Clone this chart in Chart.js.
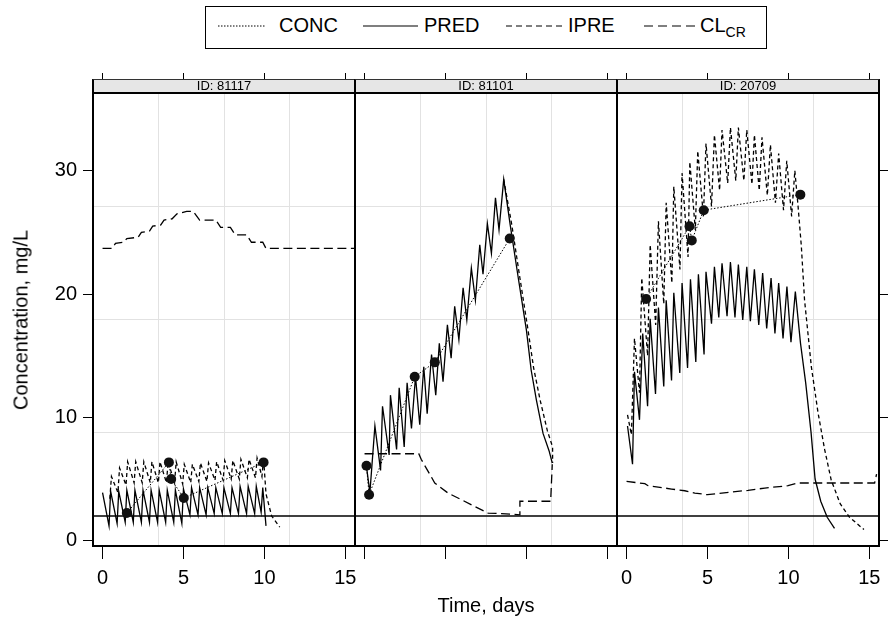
<!DOCTYPE html>
<html>
<head>
<meta charset="utf-8">
<script src="https://cdn.jsdelivr.net/npm/chart.js@4.4.0/dist/chart.umd.min.js"></script>
<style>
  html, body { margin:0; padding:0; background:#fff; }
  #wrap { position:relative; width:892px; height:621px; overflow:hidden;
          font-family:'Liberation Sans', Arial, sans-serif; color:#000; }
  #wrap canvas { position:absolute; left:0; top:0; }
  .strip { position:absolute; top:79px; height:13px; box-sizing:border-box; background:#e6e6e6;
           border-top:1px solid #333; border-left:2px solid #000; border-right:2px solid #000;
           font-size:13px; line-height:12px; text-align:center; z-index:5; white-space:nowrap; }
  #legend { position:absolute; left:205px; top:6px; width:562px; height:43px; box-sizing:border-box;
            border:1.5px solid #000; z-index:5; background:#fff; }
  #legend svg { position:absolute; left:0; top:0; }
  .lt { position:absolute; top:6px; font-size:20px; line-height:24px; white-space:nowrap; }
  .lt sub { font-size:14px; vertical-align:-5px; line-height:0; }
  #xtitle { position:absolute; left:486px; top:605px; transform:translate(-50%,-50%);
            font-size:20px; white-space:nowrap; }
  #ytitle { position:absolute; left:21px; top:320px; transform:translate(-50%,-50%) rotate(-90deg);
            font-size:20px; white-space:nowrap; }
</style>
</head>
<body>
<div id="wrap">
  <canvas id="p0" width="892" height="621"></canvas>
  <canvas id="p1" width="892" height="621"></canvas>
  <canvas id="p2" width="892" height="621"></canvas>
  <div id="legend">
    <svg width="560" height="40">
      <line x1="12" y1="19" x2="60" y2="19" stroke="#000" stroke-width="1" stroke-dasharray="1.5 1.5"/>
      <line x1="157" y1="19" x2="212" y2="19" stroke="#000" stroke-width="1.2"/>
      <line x1="300" y1="19" x2="360" y2="19" stroke="#000" stroke-width="1.2" stroke-dasharray="6 4"/>
      <line x1="438" y1="19" x2="493" y2="19" stroke="#000" stroke-width="1.2" stroke-dasharray="9 5"/>
    </svg>
    <span class="lt" style="left:73px">CONC</span>
    <span class="lt" style="left:218px">PRED</span>
    <span class="lt" style="left:362px">IPRE</span>
    <span class="lt" style="left:494px">CL<sub>CR</sub></span>
  </div>
  <div id="xtitle">Time, days</div>
  <div id="ytitle">Concentration, mg/L</div>
</div>
<script>
/* ===== AXES ===== */
const X_MIN = -0.59, X_MAX = 15.6;
const Y_MIN = -0.43, Y_MAX = 36.3;
const xTickVals = [0, 5, 10, 15];
const yTickVals = [0, 10, 20, 30];
const xGridVals = [3.46, 7.51, 11.55];
const yGridVals = [8.75, 17.93, 27.12];
const refLevel = 2;
const panelIds = ['ID: 81117', 'ID: 81101', 'ID: 20709'];

/* ===== ID 81117 ===== */
const p1ConcT = [1.5, 4.1, 4.24, 5.02, 9.95];
const p1ConcC = [2.24, 6.35, 5.0, 3.46, 6.35];
const p1PredT = [0.0,0.4,0.5,0.9,1.0,1.4,1.5,1.9,2.0,2.4,2.5,2.9,3.0,3.4,3.5,3.9,4.0,4.4,4.5,4.9,
                 5.0,5.4,5.5,5.9,6.0,6.4,6.5,6.9,7.0,7.4,7.5,7.9,8.0,8.4,8.5,8.9,9.0,9.4,9.5,9.8,9.9,10.1];
const p1PredC = [3.9,1.2,4.0,1.4,4.0,1.5,4.1,1.5,4.1,1.5,4.1,1.5,4.1,1.5,4.1,1.5,4.1,1.5,4.1,1.4,
                 4.2,2.1,4.3,2.1,4.3,2.1,4.3,2.2,4.3,2.2,4.3,2.2,4.3,2.2,4.4,2.2,4.4,2.2,4.4,2.3,4.3,1.2];
const p1IpreT = [0.45,0.55,0.95,1.05,1.45,1.55,1.95,2.05,2.45,2.55,2.95,3.05,3.45,3.55,3.95,4.05,4.45,4.55,4.95,5.05,
                 5.45,5.55,5.95,6.05,6.45,6.55,6.95,7.05,7.45,7.55,7.95,8.05,8.45,8.55,8.95,9.05,9.45,9.55,9.85,9.95,
                 10.1,10.45,10.95];
const p1IpreC = [3.4,5.2,3.9,5.9,4.5,6.4,4.7,6.4,4.7,6.4,4.7,6.4,4.7,6.4,4.7,6.4,4.7,6.4,4.6,6.2,
                 4.7,6.2,4.8,6.3,4.8,6.3,4.9,6.4,4.9,6.5,5.0,6.5,5.0,6.6,5.1,6.6,5.1,6.7,5.2,6.7,
                 3.8,2.0,1.1];
const p1ClT = [0.0,0.6,0.8,1.3,1.5,2.2,2.4,2.9,3.1,3.6,3.8,4.3,4.6,5.2,5.6,6.0,7.0,7.3,7.9,8.2,8.9,9.2,9.9,10.1,15.6];
const p1ClC = [23.7,23.7,24.1,24.2,24.5,24.6,25.0,25.1,25.5,25.6,26.0,26.1,26.5,26.7,26.7,26.0,26.0,25.4,25.4,24.8,24.8,24.2,24.2,23.7,23.7];

/* ===== ID 81101 ===== */
const p2ConcT = [0.12, 0.28, 3.1, 4.34, 8.97];
const p2ConcC = [6.08, 3.73, 13.3, 14.46, 24.5];
const p2PredT = [0.12,0.33,0.64,0.99,1.11,1.52,1.6,1.98,2.14,2.45,2.63,2.9,3.15,3.41,3.66,3.87,4.14,4.4,4.62,4.85,
                 5.12,5.35,5.57,5.83,6.09,6.32,6.6,6.85,7.12,7.32,7.59,7.84,8.09,8.31,8.6,9.0,9.5,10.0,10.3,10.62,
                 11.03,11.4,11.6];
const p2PredC = [6.0,3.9,9.3,5.7,10.9,6.95,11.8,7.4,12.4,7.6,12.8,9.1,13.3,9.4,14.1,10.3,15.1,11.8,16.0,12.9,
                 17.5,14.8,19.0,16.3,20.5,17.9,22.1,19.5,24.0,21.6,25.7,23.3,27.8,25.2,29.3,25.6,21.3,17.1,13.8,11.4,
                 8.7,7.3,6.3];
const p2IpreT = [8.6,9.1,9.6,10.1,10.45,10.85,11.3,11.62,11.62];
const p2IpreC = [29.3,25.6,21.3,17.1,14.0,11.4,8.9,7.6,6.3];
const p2ClT = [0.0,3.35,3.5,4.34,5.16,5.99,6.8,7.63,8.46,9.6,9.6,11.5,11.6];
const p2ClC = [7.05,7.05,6.6,4.68,3.86,3.32,2.78,2.24,2.19,2.1,3.2,3.2,6.2];

/* ===== ID 20709 ===== */
const p3ConcT = [1.21, 3.89, 4.03, 4.77, 10.74];
const p3ConcC = [19.6, 25.5, 24.35, 26.8, 28.06];
const p3PredT = [0.06,0.37,0.49,0.8,1.0,1.3,1.46,1.79,1.97,2.3,2.45,2.78,2.92,3.29,3.43,3.77,3.95,4.28,4.44,4.79,
                 4.91,5.25,5.43,5.7,5.9,6.21,6.42,6.7,6.91,7.18,7.43,7.65,7.9,8.17,8.41,8.66,8.93,9.17,9.4,9.67,
                 9.91,10.16,10.43,10.75,11.07,11.4,11.65,12.0,12.4,12.85];
const p3PredC = [9.3,6.2,13.7,9.8,16.8,10.9,18.0,11.9,18.9,12.5,19.5,13.0,20.1,13.6,20.9,14.0,21.2,14.5,21.6,15.1,
                 21.8,17.6,22.2,18.1,22.5,18.2,22.6,18.1,22.4,17.9,22.2,17.8,22.0,17.5,21.7,17.2,21.3,16.8,20.9,16.4,
                 20.6,16.1,20.2,16.0,12.8,8.8,5.0,3.2,1.9,1.0];
const p3IpreT = [0.06,0.3,0.49,0.8,0.94,1.3,1.46,1.8,1.97,2.3,2.45,2.8,2.92,3.3,3.43,3.8,3.91,4.25,4.4,4.75,
                 4.91,5.25,5.43,5.75,5.9,6.25,6.42,6.75,6.91,7.25,7.43,7.75,7.9,8.2,8.37,8.7,8.89,9.2,9.4,9.7,
                 9.9,10.2,10.4,10.6,10.8,11.0,11.42,11.83,12.24,12.65,13.2,13.78,14.67];
const p3IpreC = [10.2,8.6,16.4,12.0,21.3,15.0,24.0,17.5,25.9,19.2,27.4,20.9,28.7,22.0,29.8,23.0,30.7,25.2,31.6,26.3,
                 32.2,27.1,32.9,28.4,33.3,29.0,33.5,29.2,33.5,29.2,33.3,28.9,32.9,28.4,32.7,28.0,32.1,27.4,31.4,26.8,
                 30.8,26.3,30.0,27.1,23.9,19.5,14.1,10.4,7.4,4.9,3.0,1.9,0.9];
const p3ClT = [0.0,1.13,1.33,2.78,3.6,4.22,5.0,6.48,7.51,8.54,9.98,10.6,15.33,15.45];
const p3ClC = [4.81,4.62,4.46,4.19,4.05,3.86,3.73,3.95,4.08,4.27,4.46,4.68,4.68,5.4];

/* ===== LAYOUT ===== */
const FONT = "'Liberation Sans', Arial, sans-serif";
const CANVAS_W = 892, CANVAS_H = 621;
const PANEL_W = 262, PLOT_TOP = 93, PLOT_BOTTOM = 546;
const X_AXIS_H = 50, Y_AXIS_W = 70;
const panelLefts = [93, 355, 617];

const zip = (ts, cs) => ts.map((t, i) => ({ x: t, y: cs[i] }));
const setTicks = vals => s => { s.ticks = vals.map(v => ({ value: v })); };
// fix the axis box size so the plot area lands exactly where the panel is
const fitTo = size => s => {
  if (s.isHorizontal()) s.height = size; else s.width = size;
  s.paddingLeft = s.paddingRight = s.paddingTop = s.paddingBottom = 0;
};

function frameAxis(axis, position, range, vals, tickLen, drawTicks, showLabels, size) {
  return {
    type: 'linear', axis, position, min: range[0], max: range[1],
    afterBuildTicks: setTicks(vals), afterFit: fitTo(size),
    grid: { drawOnChartArea: false, drawTicks, color: '#000', lineWidth: 1, tickLength: tickLen },
    border: { display: true, color: '#000', width: 2 },
    ticks: { display: showLabels, color: '#000', font: { family: FONT, size: 20 },
             padding: axis === 'x' ? 7 : 6, maxRotation: 0, autoSkip: false }
  };
}
function gridAxis(axis, position, range, vals) {
  return {
    type: 'linear', axis, position, min: range[0], max: range[1],
    afterBuildTicks: setTicks(vals), afterFit: fitTo(0),
    grid: { drawTicks: false, color: '#e2e2e2', lineWidth: 1 },
    border: { display: false }, ticks: { display: false }
  };
}

function drawPanel(i, s) {
  const left = panelLefts[i];
  const strip = document.createElement('div');
  strip.className = 'strip';
  strip.style.left = (left - 1) + 'px';
  strip.style.width = (PANEL_W + 2) + 'px';
  strip.textContent = panelIds[i];
  document.getElementById('wrap').appendChild(strip);

  const yW = i === 0 ? Y_AXIS_W : 0;
  const xr = [X_MIN, X_MAX], yr = [Y_MIN, Y_MAX];
  new Chart(document.getElementById('p' + i), {
    type: 'line',
    data: { datasets: [
      { label: 'CONC', data: zip(s.concT, s.concC), borderColor: '#000', borderWidth: 1,
        borderDash: [1.5, 1.8], pointRadius: 5, pointBackgroundColor: '#111', pointBorderWidth: 0 },
      { label: 'PRED', data: zip(s.predT, s.predC), borderColor: '#000', borderWidth: 1.3, pointRadius: 0 },
      { label: 'IPRE', data: zip(s.ipreT, s.ipreC), borderColor: '#000', borderWidth: 1.3,
        borderDash: [4, 3], pointRadius: 0 },
      { label: 'CLCR', data: zip(s.clT, s.clC), borderColor: '#000', borderWidth: 1.3,
        borderDash: [9, 4.5], pointRadius: 0 },
      { label: 'ref', data: [{ x: X_MIN, y: refLevel }, { x: X_MAX, y: refLevel }],
        borderColor: '#000', borderWidth: 1.6, pointRadius: 0 }
    ]},
    options: {
      responsive: false, animation: false, devicePixelRatio: 1, events: [],
      layout: { padding: { left: left - yW, right: CANVAS_W - left - PANEL_W,
                           top: PLOT_TOP, bottom: CANVAS_H - PLOT_BOTTOM - X_AXIS_H } },
      plugins: { legend: { display: false }, tooltip: { enabled: false } },
      scales: {
        x:      frameAxis('x', 'bottom', xr, xTickVals, 13, true, i !== 1, X_AXIS_H),
        xTop:   frameAxis('x', 'top', xr, xTickVals, 20, true, false, 0),
        y:      frameAxis('y', 'left', yr, yTickVals, 10, i === 0, i === 0, yW),
        yRight: frameAxis('y', 'right', yr, yTickVals, 9, i === 2, false, 0),
        xg:     gridAxis('x', 'bottom', xr, xGridVals),
        yg:     gridAxis('y', 'left', yr, yGridVals)
      }
    }
  });
}

drawPanel(0, { concT: p1ConcT, concC: p1ConcC, predT: p1PredT, predC: p1PredC,
               ipreT: p1IpreT, ipreC: p1IpreC, clT: p1ClT, clC: p1ClC });
drawPanel(1, { concT: p2ConcT, concC: p2ConcC, predT: p2PredT, predC: p2PredC,
               ipreT: p2IpreT, ipreC: p2IpreC, clT: p2ClT, clC: p2ClC });
drawPanel(2, { concT: p3ConcT, concC: p3ConcC, predT: p3PredT, predC: p3PredC,
               ipreT: p3IpreT, ipreC: p3IpreC, clT: p3ClT, clC: p3ClC });
</script>
</body>
</html>
